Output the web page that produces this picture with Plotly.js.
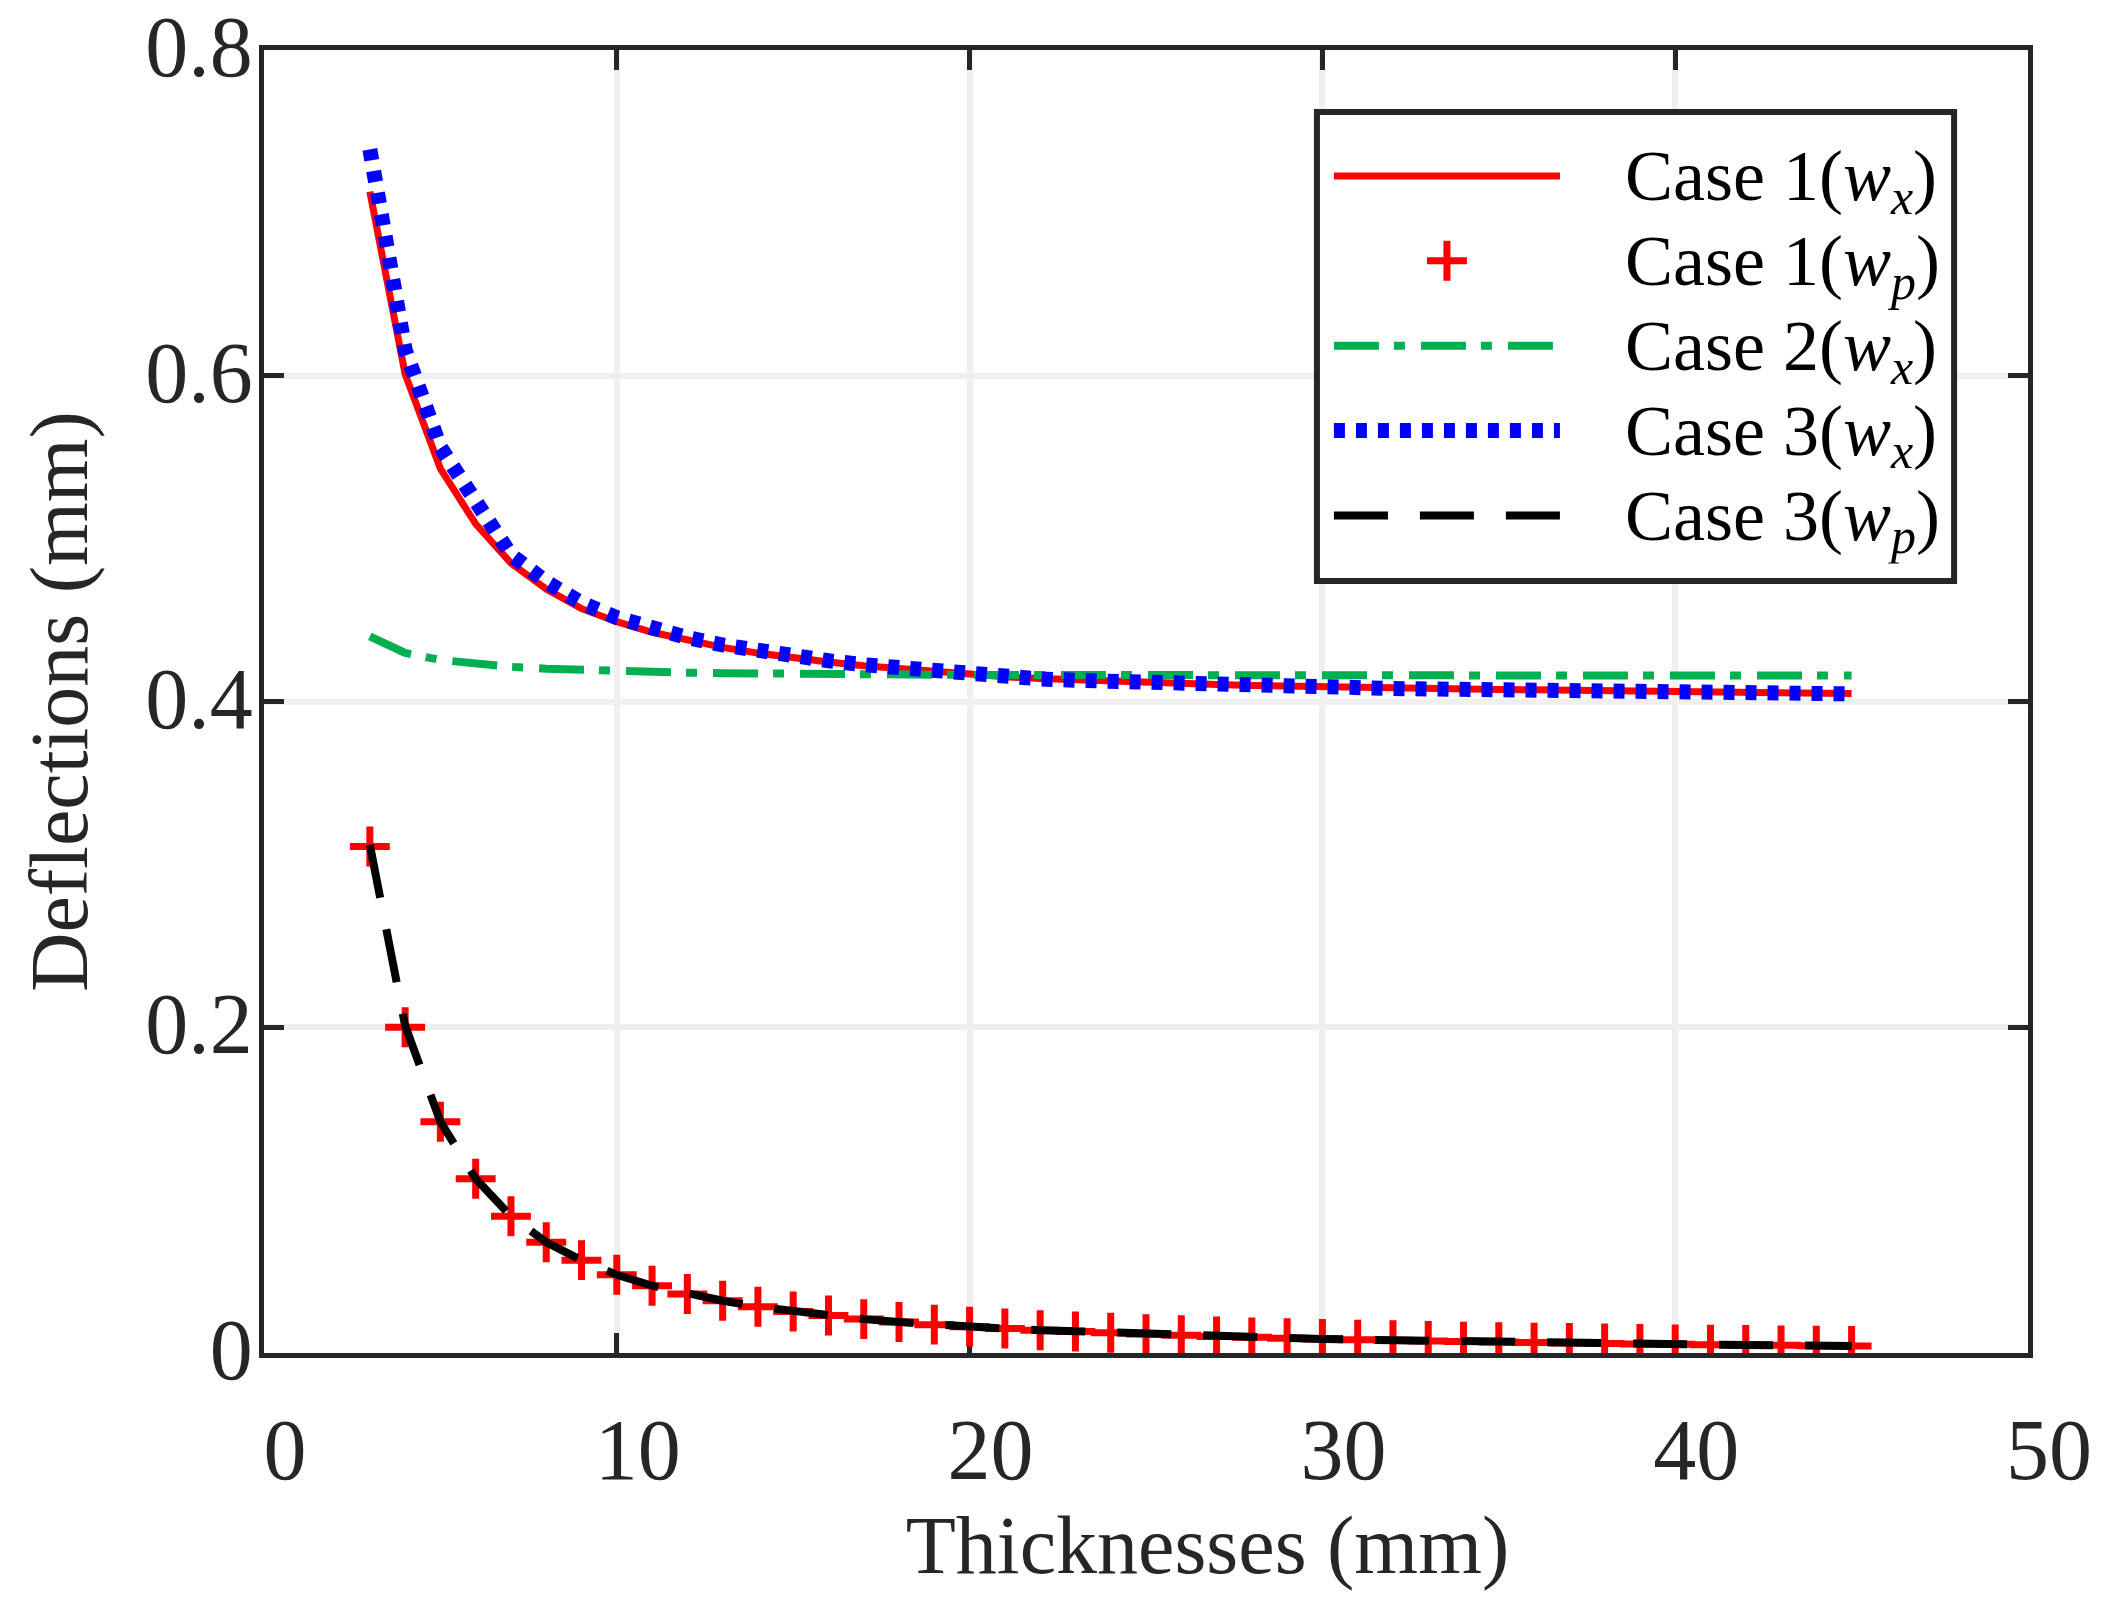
<!DOCTYPE html>
<html>
<head>
<meta charset="utf-8">
<script src="https://cdn.plot.ly/plotly-3.0.1.min.js"></script>
<style>
  html, body { margin: 0; padding: 0; background: #ffffff; }
  #chart { width: 2110px; height: 1608px; }
</style>
</head>
<body>
<div id="chart"></div>
<script>
// ---- data ----
const thickness = [3, 4, 5, 6, 7, 8, 9, 10, 11, 12, 13, 14, 15, 16, 17, 18, 19, 20, 21, 22, 23, 24,
  25, 26, 27, 28, 29, 30, 31, 32, 33, 34, 35, 36, 37, 38, 39, 40, 41, 42, 43, 44, 45];

const case1Wx = [0.713, 0.601, 0.543, 0.509, 0.485, 0.469, 0.457, 0.449, 0.4425, 0.4375, 0.4332,
  0.4297, 0.4267, 0.4242, 0.4220, 0.4201, 0.4185, 0.4170, 0.4152, 0.4141, 0.4132, 0.4124, 0.4117,
  0.4111, 0.4105, 0.4099, 0.4094, 0.4089, 0.4085, 0.4082, 0.4079, 0.4076, 0.4074, 0.4072, 0.4070,
  0.4068, 0.4066, 0.4064, 0.4061, 0.4058, 0.4055, 0.4052, 0.4049];

const case1Wp = [0.311, 0.200, 0.142, 0.107, 0.084, 0.068, 0.057, 0.048, 0.0413, 0.0362, 0.0321,
  0.0284, 0.0255, 0.0230, 0.0208, 0.0190, 0.0174, 0.0161, 0.0150, 0.0140, 0.0132, 0.0124, 0.0116,
  0.0109, 0.0102, 0.0096, 0.0091, 0.0086, 0.0082, 0.0078, 0.0074, 0.0070, 0.0067, 0.0064, 0.0061,
  0.0058, 0.0056, 0.0053, 0.0051, 0.0049, 0.0047, 0.0045, 0.0043];

const case2Wx = [0.440, 0.4298, 0.4255, 0.4230, 0.4213, 0.4201, 0.4193, 0.4186, 0.4181, 0.4177,
  0.4174, 0.4171, 0.4169, 0.4167, 0.4166, 0.4165, 0.4164, 0.4163, 0.4163, 0.4162, 0.4162, 0.4162,
  0.4161, 0.4161, 0.4161, 0.4161, 0.4161, 0.4161, 0.4161, 0.4160, 0.4160, 0.4160, 0.4160, 0.4160,
  0.4160, 0.4160, 0.4160, 0.4160, 0.4160, 0.4160, 0.4160, 0.4160, 0.4160];

const case3Wx = [0.739, 0.616, 0.556, 0.521, 0.490, 0.4735, 0.4605, 0.4515, 0.4445, 0.4392, 0.4347,
  0.4309, 0.4277, 0.4250, 0.4226, 0.4205, 0.4187, 0.4170, 0.4150, 0.4139, 0.4130, 0.4122, 0.4115,
  0.4109, 0.4103, 0.4097, 0.4092, 0.4087, 0.4083, 0.4080, 0.4077, 0.4074, 0.4072, 0.4070, 0.4068,
  0.4066, 0.4064, 0.4062, 0.4059, 0.4056, 0.4053, 0.4050, 0.4047];

const case3Wp = [0.312, 0.201, 0.142, 0.107, 0.084, 0.068, 0.057, 0.048, 0.0413, 0.0362, 0.0321,
  0.0284, 0.0255, 0.0230, 0.0208, 0.0190, 0.0174, 0.0161, 0.0150, 0.0140, 0.0132, 0.0124, 0.0116,
  0.0109, 0.0102, 0.0096, 0.0091, 0.0086, 0.0082, 0.0078, 0.0074, 0.0070, 0.0067, 0.0064, 0.0061,
  0.0058, 0.0056, 0.0053, 0.0051, 0.0049, 0.0047, 0.0045, 0.0043];

// legend labels: [case text, main symbol, subscript]
const seriesCase = ['Case 1', 'Case 1', 'Case 2', 'Case 3', 'Case 3'];
const seriesSymbol = ['w', 'w', 'w', 'w', 'w'];
const seriesSub = ['x', 'p', 'x', 'x', 'p'];

const xTickVals = [0, 10, 20, 30, 40, 50];
const xTickText = ['0', '10', '20', '30', '40', '50'];
const yTickVals = [0, 0.2, 0.4, 0.6, 0.8];
const yTickText = ['0', '0.2', '0.4', '0.6', '0.8'];

const xTitle = 'Thicknesses (mm)';
const yTitle = 'Deflections (mm)';

// ---- presentation ----
const FONT = '"Liberation Serif", "Times New Roman", Times, serif';
const AX = '#262626';
function legendName(i) {
  return '<span style="font-size:72px">\u2002\u2005\u200A' + seriesCase[i] + '(</span>' +
    '<span style="font-size:72px;font-style:italic">' + seriesSymbol[i] + '</span>' +
    '<sub><span style="font-size:50px;font-style:italic">' + seriesSub[i] + '</span></sub>' +
    '<span style="font-size:72px">)</span>';
}

const traces = [
  { x: thickness, y: case1Wx, name: legendName(0), type: 'scatter', mode: 'lines',
    line: { color: '#ff0000', width: 7 } },
  { x: thickness, y: case1Wp, name: legendName(1), type: 'scatter', mode: 'markers',
    marker: { symbol: 'cross-thin', size: 28.5, color: '#ff0000', line: { color: '#ff0000', width: 7 } } },
  { x: thickness, y: case2Wx, name: legendName(2), type: 'scatter', mode: 'lines',
    line: { color: '#00b050', width: 8, dash: '45px,15px,11px,16px' } },
  { x: thickness, y: case3Wx, name: legendName(3), type: 'scatter', mode: 'lines',
    line: { color: '#0000ff', width: 15, dash: '11px,11px' } },
  { x: thickness, y: case3Wp, name: legendName(4), type: 'scatter', mode: 'lines',
    line: { color: '#000000', width: 8, dash: '54px,32px' } }
];

const axisCommon = {
  ticks: 'inside', ticklen: 20, tickwidth: 5, tickcolor: AX,
  showline: true, linewidth: 5, linecolor: AX, mirror: 'ticks',
  showgrid: true, gridcolor: '#efefef', gridwidth: 6,
  zeroline: false, tickfont: { family: FONT, size: 86, color: AX },
  tickmode: 'array', layer: 'below traces', ticklabeloverflow: 'allow'
};

const layout = {
  width: 2110, height: 1608,
  margin: { l: 264, r: 82, t: 50, b: 255, pad: 0 },
  paper_bgcolor: '#ffffff', plot_bgcolor: '#ffffff',
  font: { family: FONT, color: AX, size: 78 },
  xaxis: Object.assign({}, axisCommon, {
    range: [0, 50], tickvals: xTickVals, ticktext: xTickText,
    ticklabelshift: 21, ticklabelstandoff: 18,
    title: { text: '<span style="font-size:82px">\u2003\u2002</span>' + xTitle, font: { family: FONT, size: 82, color: AX }, standoff: 20 }
  }),
  yaxis: Object.assign({}, axisCommon, {
    range: [0, 0.8], tickvals: yTickVals, ticktext: yTickText,
    ticklabelshift: -4, ticklabelstandoff: -11,
    title: { text: yTitle, font: { family: FONT, size: 82, color: AX }, standoff: 32 }
  }),
  shapes: [
    { type: 'rect', xref: 'paper', yref: 'paper', x0: 0.5969, x1: 0.9581, y0: 0.5925, y1: 0.9524,
      fillcolor: '#ffffff', line: { color: AX, width: 6 }, layer: 'above' }
  ],
  showlegend: true,
  legend: {
    x: 0.6037, y: 0.9398, xanchor: 'left', yanchor: 'top',
    bgcolor: 'rgba(0,0,0,0)', borderwidth: 0,
    font: { family: FONT, size: 63, color: '#000000' },
    itemwidth: 226, tracegroupgap: 0, traceorder: 'normal'
  }
};

Plotly.newPlot('chart', traces, layout, { staticPlot: true, displayModeBar: false }).then(function (gd) {
  // enlarge legend symbols to the sizes used in the plot (Plotly caps them in the legend)
  const items = gd.querySelectorAll('.legend .traces');
  if (items.length === 5) {
    const pt = items[1].querySelector('.legendpoints path');
    if (pt) {
      pt.setAttribute('transform', (pt.getAttribute('transform') || '') + ' scale(1.786)');
      pt.style.strokeWidth = '3.92px';
    }
    const bl = items[3].querySelector('.legendlines path');
    if (bl) bl.style.strokeWidth = '15px';
  }
});
</script>
</body>
</html>
